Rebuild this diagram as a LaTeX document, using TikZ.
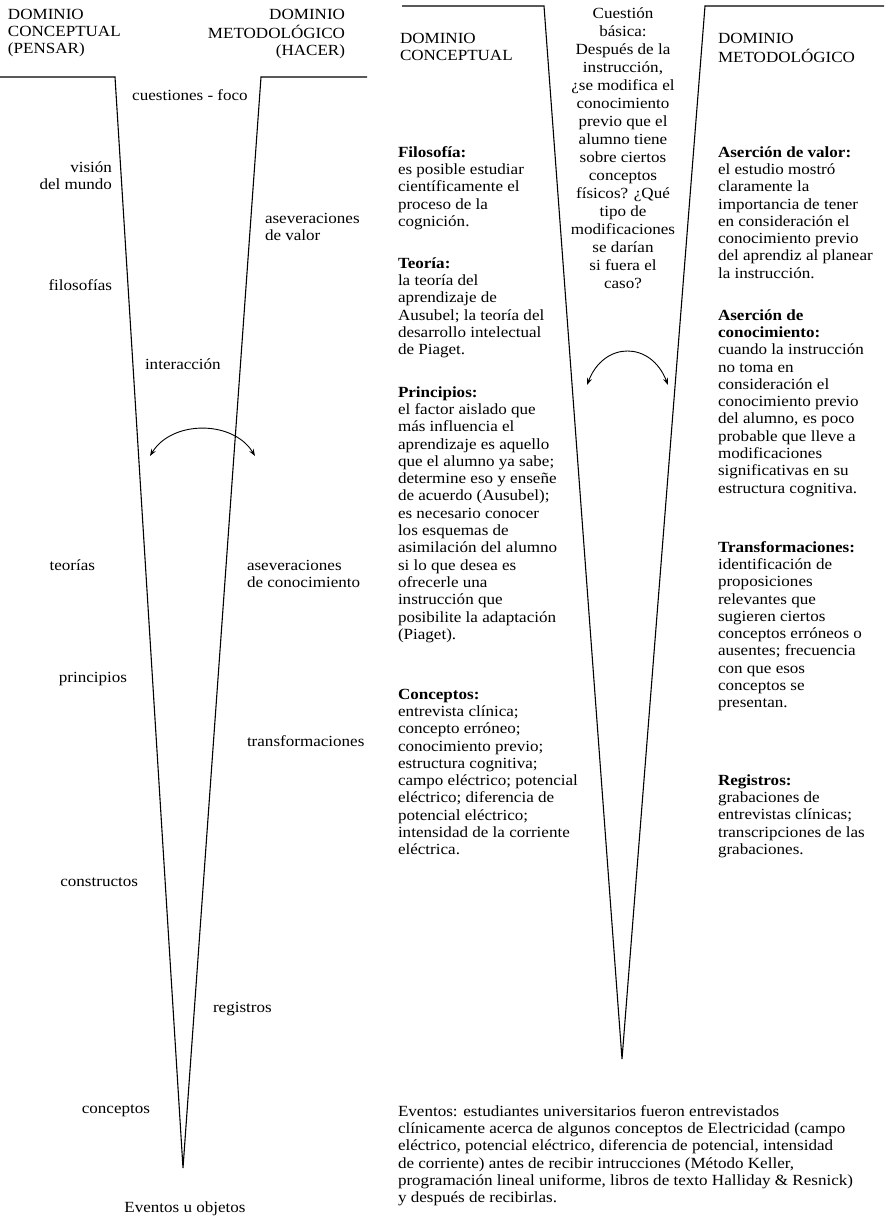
\documentclass[tikz,border=0pt]{standalone}
\usepackage{fontspec}
\setmainfont[FakeStretch=1.1]{Liberation Serif}
\usetikzlibrary{arrows.meta}
\newcommand\txtf{\fontsize{15.5}{17.3}\selectfont}
\newcommand\qf{\fontsize{15.5}{18}\selectfont}
\tikzset{
  lbl/.style={inner sep=0pt, outer sep=0pt, font=\txtf},
  lft/.style={lbl, align=left, anchor=north west},
  rgt/.style={lbl, align=right, anchor=north east},
  ctr/.style={lbl, align=center, anchor=north},
  vline/.style={line width=1.1pt, line join=miter},
  interarrow/.style={line width=0.9pt, {Stealth[length=7pt,width=5pt]}-{Stealth[length=7pt,width=5pt]}}
}
\begin{document}
\begin{tikzpicture}[x=1pt,y=-1pt]
\useasboundingbox (0,0) rectangle (884,1220);
% ---------- left V ----------
\coordinate (l0) at (0,77);
\coordinate (l1) at (115,77);
\coordinate (lapex) at (183,1168);
\coordinate (l2) at (261,77);
\coordinate (l3) at (367,77);
\draw[vline] (l0) -- (l1) -- (lapex) -- (l2) -- (l3);

\node[lft] (lhc) at (8,7) {\strut DOMINIO\\CONCEPTUAL\\(PENSAR)};
\node[rgt] (lhm) at (345,7) {\strut DOMINIO\\METODOLÓGICO\\(HACER)};
\node[ctr] (foco) at (190,88) {\strut cuestiones - foco};
\node[rgt] (vision) at (112,160) {\strut visión\\del mundo};
\node[lft] (asval) at (265,211) {\strut aseveraciones\\de valor};
\node[rgt] (filos) at (112,278) {\strut filosofías};
\node[lft] (inter) at (145,357) {\strut interacción};
\node[rgt] (teor) at (95,558) {\strut teorías};
\node[lft] (ascon) at (247,558) {\strut aseveraciones\\de conocimiento};
\node[rgt] (princ) at (127,670) {\strut principios};
\node[lft] (transf) at (247,734) {\strut transformaciones};
\node[rgt] (constr) at (138,874) {\strut constructos};
\node[lft] (regis) at (213,1000) {\strut registros};
\node[rgt] (concep) at (150,1101) {\strut conceptos};
\node[ctr] (event) at (185,1200) {\strut Eventos u objetos};

\coordinate (la1) at (150,456);
\coordinate (la2) at (255,456);
\draw[interarrow] (la1) .. controls (172,420) and (233,420) .. (la2);

% ---------- right V ----------
\coordinate (r0) at (402,6);
\coordinate (r1) at (544,6);
\coordinate (rapex) at (622,1059);
\coordinate (r2) at (705,6);
\coordinate (r3) at (884,6);
\draw[vline] (r0) -- (r1) -- (rapex) -- (r2) -- (r3);

\node[lft] (rhc) at (400,31) {\strut DOMINIO\\CONCEPTUAL};
\node[lft] (rhm) at (718,31) {\strut DOMINIO\\METODOLÓGICO};
\node[lbl, align=center, anchor=north, font=\qf] (cuest) at (623,6) {\strut Cuestión\\básica:\\Después de la\\instrucción,\\¿se modifica el\\conocimiento\\previo que el\\alumno tiene\\sobre ciertos\\conceptos\\físicos? ¿Qué\\tipo de\\modificaciones\\se darían\\si fuera el\\caso?};

\node[lft] (filo) at (398,145) {\strut\textbf{Filosofía:}\\es posible estudiar\\científicamente el\\proceso de la\\cognición.};
\node[lft] (teo) at (398,256) {\strut\textbf{Teoría:}\\la teoría del\\aprendizaje de\\Ausubel; la teoría del\\desarrollo intelectual\\de Piaget.};
\node[lft] (pri) at (398,385) {\strut\textbf{Principios:}\\el factor aislado que\\más influencia el\\aprendizaje es aquello\\que el alumno ya sabe;\\determine eso y enseñe\\de acuerdo (Ausubel);\\es necesario conocer\\los esquemas de\\asimilación del alumno\\si lo que desea es\\ofrecerle una\\instrucción que\\posibilite la adaptación\\(Piaget).};
\node[lft] (con) at (398,687) {\strut\textbf{Conceptos:}\\entrevista clínica;\\concepto erróneo;\\conocimiento previo;\\estructura cognitiva;\\campo eléctrico; potencial\\eléctrico; diferencia de\\potencial eléctrico;\\intensidad de la corriente\\eléctrica.};

\node[lft] (aval) at (718,145) {\strut\textbf{Aserción de valor:}\\el estudio mostró\\claramente la\\importancia de tener\\en consideración el\\conocimiento previo\\del aprendiz al planear\\la instrucción.};
\node[lft] (acon) at (718,308) {\strut\textbf{Aserción de}\\\textbf{conocimiento:}\\cuando la instrucción\\no toma en\\consideración el\\conocimiento previo\\del alumno, es poco\\probable que lleve a\\modificaciones\\significativas en su\\estructura cognitiva.};
\node[lft] (tra) at (718,540) {\strut\textbf{Transformaciones:}\\identificación de\\proposiciones\\relevantes que\\sugieren ciertos\\conceptos erróneos o\\ausentes; frecuencia\\con que esos\\conceptos se\\presentan.};
\node[lft] (reg) at (718,773) {\strut\textbf{Registros:}\\grabaciones de\\entrevistas clínicas;\\transcripciones de las\\grabaciones.};

\node[lft] (ev) at (398,1104) {\strut Eventos: estudiantes universitarios fueron entrevistados\\clínicamente acerca de algunos conceptos de Electricidad (campo\\eléctrico, potencial eléctrico, diferencia de potencial, intensidad\\de corriente) antes de recibir intrucciones (Método Keller,\\programación lineal uniforme, libros de texto Halliday \& Resnick)\\y después de recibirlas.};

\coordinate (ra1) at (587,385);
\coordinate (ra2) at (668,385);
\draw[interarrow] (ra1) .. controls (604,341) and (651,341) .. (ra2);
\end{tikzpicture}
\end{document}
